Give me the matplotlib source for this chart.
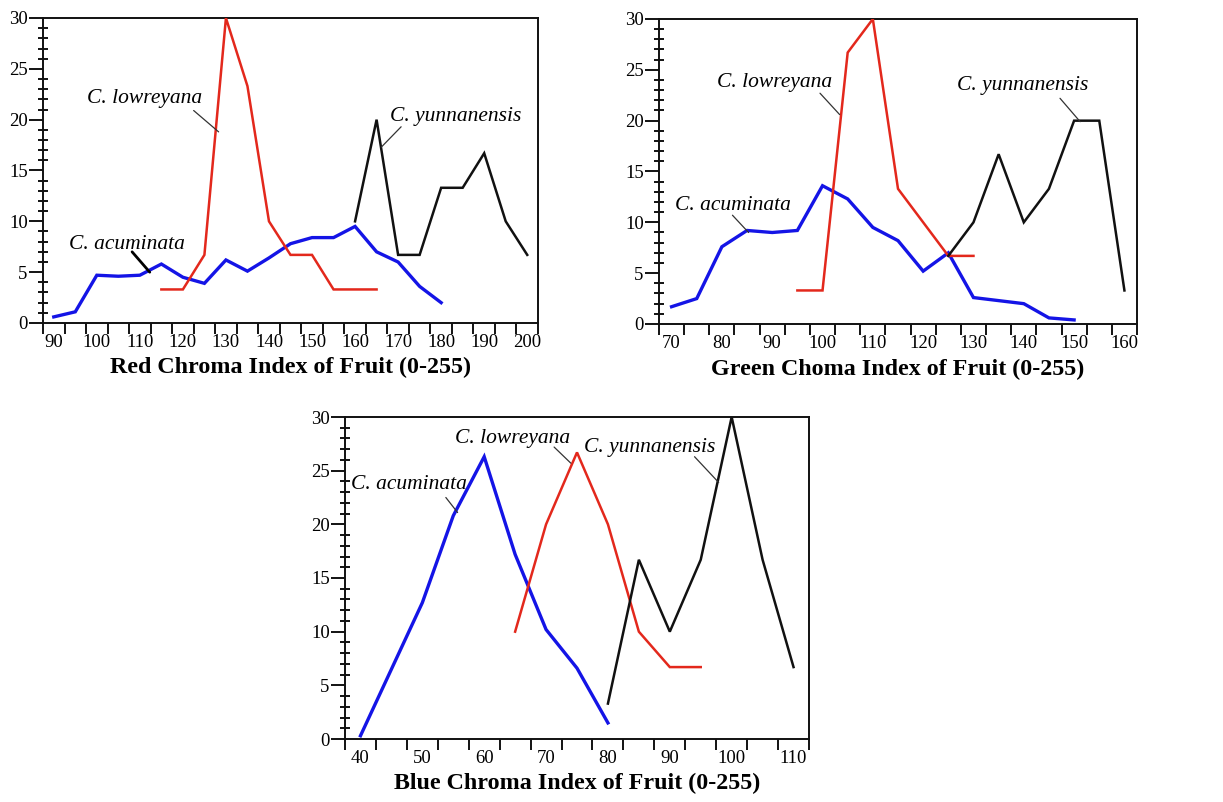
import matplotlib
matplotlib.use("Agg")
import matplotlib.pyplot as plt
from matplotlib.ticker import MultipleLocator
import numpy as np

plt.rcParams["font.family"] = ["Liberation Serif", "DejaVu Serif"]

BLUE = "#1414e6"
RED = "#e3281c"
BLACK = "#111111"

# ---------------- Red chroma index ----------------
red_acum_x = [90, 95, 100, 105, 110, 115, 120, 125, 130, 135, 140, 145, 150, 155, 160, 165, 170, 175, 180]
red_acum_y = [0.6, 1.1, 4.7, 4.6, 4.7, 5.8, 4.5, 3.9, 6.2, 5.1, 6.4, 7.8, 8.4, 8.4, 9.5, 7.0, 6.0, 3.6, 2.0]
red_lowr_x = [115, 120, 125, 130, 135, 140, 145, 150, 155, 160, 165]
red_lowr_y = [3.3, 3.3, 6.7, 30.0, 23.3, 10.0, 6.7, 6.7, 3.3, 3.3, 3.3]
red_yunn_x = [160, 165, 170, 175, 180, 185, 190, 195, 200]
red_yunn_y = [10.0, 20.0, 6.7, 6.7, 13.3, 13.3, 16.7, 10.0, 6.7]
red_ticks = [90, 100, 110, 120, 130, 140, 150, 160, 170, 180, 190, 200]

# ---------------- Green chroma index ----------------
green_acum_x = [70, 75, 80, 85, 90, 95, 100, 105, 110, 115, 120, 125, 130, 135, 140, 145, 150]
green_acum_y = [1.7, 2.5, 7.6, 9.2, 9.0, 9.2, 13.6, 12.3, 9.5, 8.2, 5.2, 7.0, 2.6, 2.3, 2.0, 0.6, 0.4]
green_lowr_x = [95, 100, 105, 110, 115, 120, 125, 130]
green_lowr_y = [3.3, 3.3, 26.7, 30.0, 13.3, 10.0, 6.7, 6.7]
green_yunn_x = [125, 130, 135, 140, 145, 150, 155, 160]
green_yunn_y = [6.7, 10.0, 16.7, 10.0, 13.3, 20.0, 20.0, 3.3]
green_ticks = [70, 80, 90, 100, 110, 120, 130, 140, 150, 160]

# ---------------- Blue chroma index ----------------
blue_acum_x = [40, 45, 50, 55, 60, 65, 70, 75, 80]
blue_acum_y = [0.3, 6.5, 12.7, 20.8, 26.3, 17.2, 10.2, 6.6, 1.5]
blue_lowr_x = [65, 70, 75, 80, 85, 90, 95]
blue_lowr_y = [10.0, 20.0, 26.7, 20.0, 10.0, 6.7, 6.7]
blue_yunn_x = [80, 85, 90, 95, 100, 105, 110]
blue_yunn_y = [3.3, 16.7, 10.0, 16.7, 30.0, 16.7, 6.7]
blue_ticks = [40, 50, 60, 70, 80, 90, 100, 110]

W, H = 1223, 802
fig = plt.figure(figsize=(W / 100, H / 100), dpi=100)


def px_axes(l, t, r, b):
    return fig.add_axes([l / W, 1 - b / H, (r - l) / W, (b - t) / H])


def style(ax, ticks, xlim, xlabel, labelpad):
    ax.set_xlim(*xlim)
    ax.set_ylim(0, 30)
    for s in ax.spines.values():
        s.set_linewidth(1.4)
        s.set_color("#111111")
    ax.set_xticks(ticks)
    ax.set_xticklabels([str(t) for t in ticks])
    ax.set_xticks(np.arange(xlim[0], xlim[1] + 0.01, 5), minor=True)
    ax.tick_params(axis="x", which="major", length=0, pad=8, labelsize=13.5)
    ax.tick_params(axis="x", which="minor", length=8, width=1.3, direction="out")
    ax.yaxis.set_major_locator(MultipleLocator(5))
    ax.yaxis.set_minor_locator(MultipleLocator(1))
    ax.tick_params(axis="y", which="major", length=10, width=1.3, direction="out", pad=1, labelsize=13.5)
    ax.tick_params(axis="y", which="minor", length=7, width=1.3, direction="inout")
    ax.set_xlabel(xlabel, fontsize=17.3, fontweight="bold", labelpad=labelpad)


def label(ax, text, pos, start, end, lw=0.9, color="#333333"):
    ax.text(pos[0], pos[1], text, fontsize=15.5, fontstyle="italic", ha="center", va="center")
    ax.annotate("", xy=end, xytext=start,
                arrowprops=dict(arrowstyle="-", color=color, lw=lw, shrinkA=0, shrinkB=0))


def series(ax, acx, acy, lrx, lry, ynx, yny):
    ax.plot(acx, acy, color=BLUE, lw=2.4, solid_joinstyle="miter", zorder=3)
    ax.plot(lrx, lry, color=RED, lw=1.8, solid_joinstyle="miter", zorder=3)
    ax.plot(ynx, yny, color=BLACK, lw=1.8, solid_joinstyle="miter", zorder=3)


# Top-left: red
ax1 = px_axes(43, 18, 538, 323)
series(ax1, red_acum_x, red_acum_y, red_lowr_x, red_lowr_y, red_yunn_x, red_yunn_y)
style(ax1, red_ticks, (87.5, 202.5), "Red Chroma Index of Fruit (0-255)", 4)
label(ax1, "C. lowreyana", (111.0, 22.1), (122.5, 20.9), (128.3, 18.8))
label(ax1, "C. yunnanensis", (183.4, 20.3), (170.7, 19.3), (166.1, 17.3))
label(ax1, "C. acuminata", (107.0, 7.7), (108.2, 7.0), (112.3, 5.0), lw=2.0, color="#000000")

# Top-right: green
ax2 = px_axes(659, 19, 1137, 324)
series(ax2, green_acum_x, green_acum_y, green_lowr_x, green_lowr_y, green_yunn_x, green_yunn_y)
style(ax2, green_ticks, (67.5, 162.5), "Green Choma Index of Fruit (0-255)", 5)
label(ax2, "C. lowreyana", (90.4, 23.8), (99.5, 22.7), (103.4, 20.6))
label(ax2, "C. yunnanensis", (139.7, 23.5), (147.2, 22.2), (151.2, 19.9))
label(ax2, "C. acuminata", (82.1, 11.7), (82.1, 10.7), (85.3, 9.0))

# Bottom: blue
ax3 = px_axes(345, 417, 809, 739)
series(ax3, blue_acum_x, blue_acum_y, blue_lowr_x, blue_lowr_y, blue_yunn_x, blue_yunn_y)
style(ax3, blue_ticks, (37.5, 112.5), "Blue Chroma Index of Fruit (0-255)", 4)
label(ax3, "C. lowreyana", (64.6, 28.0), (71.3, 27.2), (74.0, 25.7))
label(ax3, "C. yunnanensis", (86.7, 27.2), (94.0, 26.3), (97.9, 23.9))
label(ax3, "C. acuminata", (47.8, 23.7), (53.8, 22.5), (55.7, 21.1))

fig.savefig("out.png", dpi=100)
